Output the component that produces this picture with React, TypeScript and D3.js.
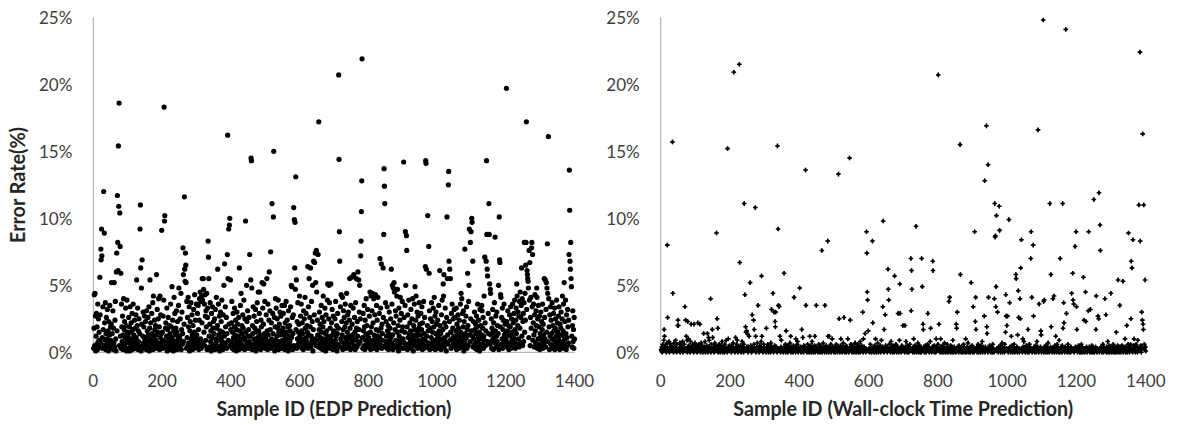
import React from "react";
import * as d3 from "d3";

// Error rate (%) per sample, grouped in blocks of 50 consecutive sample IDs (1..1400).
const BLOCK = 50;

const edpErrors: number[][] = [
  [0.3,1.8,4.3,0.5,4.4,2.7,0.1,1.2,2.9,0.6, 1.9,0.2,3.6,0.8,2.5,0.4,1.5,0.9,5.6,2.8, 0.7,7.7,6.9,9.2,7.2,1.1,0.3,3.4,1.7,12.0, 0.5,8.9,2.2,0.9,3.7,0.2,1.4,2.6,0.6,1.0, 3.2,0.4,1.6,0.1,2.3,0.8,1.3,3.5,0.5,1.9],
  [0.9,2.1,5.2,0.3,1.4,0.6,3.1,0.2,1.8,0.7, 5.2,0.4,2.4,3.8,1.0,0.1,6.0,7.4,1.6,11.7, 8.2,6.1,15.4,10.9,18.6,0.5,10.4,7.9,1.2,5.9, 0.3,3.6,1.9,0.8,2.7,0.2,1.3,4.0,0.6,1.7, 2.3,0.4,1.1,3.3,0.7,2.0,0.1,3.9,1.5,0.9],
  [1.2,0.3,2.6,0.8,1.9,0.1,3.4,0.6,1.5,2.2, 0.4,1.0,2.9,0.2,1.7,3.6,0.7,1.3,0.5,2.4, 0.9,1.8,0.3,2.8,1.1,5.4,0.6,2.0,3.3,0.2, 1.6,0.8,2.5,0.4,1.4,9.2,11.0,6.3,0.1,4.8, 2.1,6.9,0.5,1.2,3.0,0.7,1.9,0.3,2.7,1.0],
  [0.6,2.3,1.1,0.2,3.1,0.9,1.6,0.4,2.6,1.3, 0.7,3.4,0.1,1.8,5.4,0.5,2.2,1.0,0.3,2.9, 1.4,0.8,3.7,0.2,4.2,1.2,0.6,2.4,1.7,0.4, 2.0,0.9,1.3,5.8,0.3,3.2,1.5,0.7,2.5,4.0, 0.5,1.9,0.2,4.2,1.1,2.8,0.6,1.4,9.1,0.8],
  [1.5,0.3,2.7,0.9,3.9,18.3,9.8,10.2,0.4,1.8, 2.2,0.6,1.2,3.3,0.1,1.7,0.8,2.6,0.3,1.0, 0.5,2.0,1.4,0.2,3.6,0.7,1.9,1.1,4.9,0.4, 2.4,0.9,0.1,1.6,4.1,0.6,2.9,1.3,0.3,1.8, 0.8,3.1,1.5,0.2,2.3,0.5,1.0,3.5,4.8,0.7],
  [1.2,0.4,2.5,0.9,4.4,0.2,1.7,3.0,0.6,1.4, 7.8,5.8,0.8,2.1,11.6,6.2,5.3,7.4,6.5,5.2, 0.3,3.8,1.1,2.6,0.5,4.1,1.9,0.7,3.4,0.1, 1.6,2.3,0.4,3.7,1.0,0.6,2.8,1.3,0.2,2.0, 0.9,3.2,0.3,1.5,4.3,0.7,2.4,1.1,0.5,3.6],
  [1.3,0.4,2.9,0.8,3.5,1.7,0.2,2.4,4.0,0.6, 4.5,1.0,3.8,0.3,4.2,2.2,5.5,3.9,0.7,5.5, 4.7,1.5,3.6,0.5,4.3,2.7,0.9,3.1,1.9,4.4, 0.2,2.6,3.3,8.3,7.1,5.5,1.2,0.4,2.1,3.7, 0.8,1.6,0.1,2.9,1.1,0.5,3.4,1.8,0.3,2.3],
  [1.4,0.6,2.5,0.2,3.2,1.0,0.7,4.1,1.8,0.3, 2.0,6.2,0.9,3.6,1.3,0.4,2.7,0.1,1.6,3.0, 0.5,2.3,1.1,3.9,0.8,1.5,0.2,2.8,0.6,5.0, 1.2,6.6,0.4,3.4,1.9,0.7,2.6,0.3,1.4,7.3, 16.2,5.5,0.9,9.2,2.1,9.5,10.0,0.5,5.4,1.7],
  [0.8,2.2,3.8,0.3,1.5,0.6,2.9,1.1,0.2,1.9, 3.3,0.5,1.3,2.4,0.9,0.1,1.7,3.0,0.7,2.1, 0.4,1.2,2.6,0.2,6.3,1.6,0.8,3.5,1.0,4.4, 0.6,2.0,1.4,0.3,2.8,1.8,0.5,3.9,1.1,0.2, 2.5,0.9,9.8,1.5,0.4,5.0,2.3,0.7,3.1,1.2],
  [0.3,1.7,2.6,0.8,7.3,1.2,0.5,5.4,14.5,14.3, 4.8,0.2,2.0,1.4,3.4,0.6,1.0,2.7,0.4,1.8, 0.9,3.2,0.1,1.5,2.3,0.7,3.7,1.1,0.3,4.5, 1.6,0.5,2.9,4.5,0.8,1.3,0.2,2.4,1.9,0.6, 5.2,1.0,3.3,0.4,2.1,5.1,0.7,1.4,3.8,0.3],
  [1.1,0.4,2.8,0.9,5.5,1.6,0.2,3.6,1.3,0.6, 2.4,6.0,0.8,3.1,1.7,7.5,0.3,2.2,1.0,11.1, 0.5,2.9,1.4,10.1,15.0,0.7,2.6,0.1,1.9,4.0, 0.9,3.3,0.4,1.2,2.5,0.6,1.8,3.9,0.2,1.5, 2.1,0.8,3.0,1.3,0.5,2.7,0.3,1.6,3.5,0.9],
  [0.4,1.8,2.9,0.7,1.3,3.5,0.2,2.2,1.0,0.5, 3.8,1.5,0.3,2.4,0.9,1.9,0.1,3.1,1.2,0.6, 2.0,0.8,1.6,3.4,0.4,5.0,1.1,4.9,2.6,0.2, 1.4,2.8,10.8,0.5,9.9,6.3,9.7,4.7,13.1,1.7, 5.4,0.3,2.3,1.0,3.7,0.6,1.5,2.1,0.8,4.2],
  [1.2,0.5,2.7,0.9,3.6,1.6,0.3,2.2,0.7,1.4, 0.2,3.1,1.0,2.5,0.6,4.1,1.8,0.4,2.9,1.1, 0.8,2.0,1.5,6.4,0.3,3.4,1.3,5.5,0.6,2.6, 1.9,6.3,0.4,1.2,3.8,0.9,2.3,5.0,0.1,1.7, 6.8,0.7,2.8,6.7,1.0,7.4,5.2,0.5,7.6,4.5],
  [0.9,2.4,1.3,7.3,0.4,17.2,1.7,3.0,0.6,2.1, 1.1,0.3,3.5,1.5,0.8,2.6,0.2,1.9,4.2,0.5, 2.3,1.0,0.7,3.3,1.4,0.1,2.8,0.9,1.6,0.4, 3.9,5.1,1.2,0.6,2.5,5.0,3.7,0.3,1.8,1.0, 5.1,0.8,2.2,0.4,3.2,1.3,0.2,2.7,1.5,0.7],
  [1.6,0.3,2.5,0.9,3.8,1.2,0.5,2.0,0.1,1.4, 2.9,0.6,1.8,20.7,14.4,9.0,6.8,0.4,3.4,1.0, 4.3,0.8,2.3,1.3,4.1,0.2,1.7,3.1,0.7,2.6, 0.5,1.9,3.6,1.1,0.3,2.2,4.4,0.9,1.5,2.8, 0.6,3.0,1.2,0.4,2.4,5.5,1.8,0.2,3.5,1.0],
  [5.6,0.7,2.1,1.3,0.3,3.3,1.0,5.8,0.5,2.6, 1.5,0.2,3.7,0.9,5.5,1.8,0.4,2.3,1.2,6.0, 0.6,5.4,1.7,3.0,5.0,0.8,2.5,7.2,8.3,10.5, 12.8,21.9,1.1,0.3,2.9,1.6,0.5,3.5,1.9,0.2, 2.4,0.9,1.3,4.0,0.6,2.0,0.4,3.2,1.4,0.8],
  [1.1,0.4,2.7,0.8,4.5,1.5,0.2,4.2,1.9,0.6, 3.1,4.4,0.9,2.2,0.3,4.0,1.3,0.7,2.8,1.0, 4.3,0.5,1.7,3.5,0.2,2.4,1.2,4.1,0.8,1.6, 0.4,2.9,1.1,7.0,0.6,3.3,1.8,6.6,0.3,2.1, 1.4,0.9,6.3,2.6,8.8,13.7,12.4,11.1,0.5,3.7],
  [0.8,2.3,1.2,0.3,3.4,1.6,0.6,2.0,0.2,1.4, 3.0,0.9,1.8,0.4,2.5,1.1,6.2,0.7,3.6,5.0, 1.3,0.2,4.8,2.2,5.2,4.5,0.5,1.7,3.1,0.9, 2.7,0.4,4.2,1.5,4.7,0.8,2.0,0.1,3.3,1.2, 0.6,2.4,4.1,1.0,0.3,2.9,1.6,0.7,3.8,1.9],
  [1.0,0.3,14.2,2.6,0.7,1.5,3.5,9.0,5.0,0.5, 8.7,7.6,1.9,0.2,2.8,1.1,0.6,3.9,1.4,0.4, 2.2,0.8,1.6,3.2,0.3,1.0,2.5,0.6,4.0,1.3, 0.1,2.0,0.9,3.6,1.7,4.9,0.5,2.4,4.2,1.2, 0.7,3.0,1.5,0.3,2.7,0.9,1.8,3.7,0.4,2.1],
  [1.3,0.5,2.9,0.8,1.7,3.4,0.2,2.2,1.0,0.6, 3.8,1.4,0.3,2.6,0.9,6.4,14.3,14.1,6.2,1.2, 0.4,2.0,10.2,1.6,0.7,7.9,5.9,3.1,0.2,1.8, 2.5,0.6,1.1,3.7,0.3,2.3,1.5,0.8,3.3,0.5, 1.9,4.1,0.9,2.7,0.2,1.4,3.0,0.6,2.1,1.0],
  [0.7,2.4,1.2,0.3,3.5,1.6,0.5,6.1,2.0,0.9, 1.4,0.2,2.8,1.0,3.9,0.6,1.7,5.1,4.2,5.8, 0.4,2.2,1.1,3.3,0.8,1.9,0.1,2.6,10.1,5.5, 1.3,0.6,12.5,13.5,6.8,2.3,6.2,0.9,5.5,1.5, 0.3,2.9,1.0,3.6,0.5,1.8,2.5,0.7,1.2,3.2],
  [1.1,0.4,2.6,0.9,1.6,3.3,0.2,2.1,0.7,1.3, 2.8,0.5,1.8,0.3,2.4,1.0,0.6,3.6,1.5,4.4, 0.8,4.0,1.2,2.9,0.4,1.9,3.1,0.1,2.3,0.9, 7.7,1.4,0.6,2.7,1.1,3.4,0.3,1.7,5.9,2.0, 0.5,3.8,5.0,9.2,1.3,0.8,8.2,2.5,9.0,1.6],
  [10.0,9.7,1.2,6.8,0.4,2.3,1.0,0.6,3.0,1.7, 0.3,2.1,1.4,0.8,2.7,0.2,1.9,3.6,0.5,1.1, 2.4,0.7,1.5,0.1,3.2,1.0,2.0,0.4,1.3,3.5, 3.1,0.6,1.8,2.6,0.3,1.2,4.2,0.9,7.1,2.2, 0.5,1.6,6.8,14.3,8.8,6.2,5.7,0.8,2.9,1.4],
  [11.1,8.8,5.1,0.6,4.7,4.4,1.3,2.5,0.3,1.8, 0.9,3.2,1.5,0.2,2.2,1.1,3.7,0.7,8.6,1.6, 2.7,0.4,1.2,3.0,0.8,2.0,0.5,1.4,5.0,0.2, 10.1,6.9,6.7,1.9,4.3,4.1,0.6,2.6,1.0,3.3, 0.3,1.7,2.4,0.9,3.6,1.3,0.5,2.1,0.8,1.5],
  [1.0,19.7,2.3,0.4,1.6,3.1,0.7,2.0,0.2,1.3, 2.8,0.6,1.9,3.4,0.3,1.2,2.5,0.9,1.5,3.6, 0.5,2.2,1.1,2.9,0.8,3.9,1.7,0.3,2.4,3.3, 1.4,5.1,4.2,0.6,2.0,3.0,1.0,2.7,0.4,3.8, 1.8,4.5,0.7,2.6,3.5,6.3,1.2,4.0,0.5,2.3],
  [2.9,0.8,3.7,8.2,1.5,4.4,2.4,6.5,8.2,17.2, 3.2,6.1,5.8,5.5,5.3,4.8,1.1,7.6,3.9,6.7, 0.5,2.6,4.1,1.8,7.8,8.2,3.4,7.3,0.9,2.2, 3.6,1.3,0.4,2.8,4.3,1.6,0.7,3.1,2.0,4.8, 4.1,0.3,2.5,1.0,3.5,0.6,1.9,2.7,0.2,1.4],
  [1.1,3.0,0.5,2.3,0.9,1.7,3.6,0.3,2.1,1.3, 0.7,5.5,2.6,1.0,5.4,0.4,3.2,5.2,1.5,4.8, 8.1,4.4,0.8,16.1,4.0,1.9,0.2,2.8,1.2,3.4, 0.6,2.4,1.4,0.3,3.7,1.0,2.0,0.5,2.9,1.6, 0.9,3.3,0.2,1.8,2.5,0.7,1.2,3.9,0.4,2.2],
  [1.5,0.4,2.7,0.9,3.4,1.2,0.2,2.1,0.7,1.8, 3.0,0.5,1.3,2.5,4.2,0.8,1.6,3.6,0.3,5.2, 1.0,2.3,0.6,3.9,1.4,0.2,2.8,1.1,0.5,3.2, 1.9,0.7,2.4,7.3,13.6,10.6,6.8,6.2,8.2,5.5, 4.9,1.2,0.4,2.0,3.1,0.8,1.7,0.3,2.6,1.0],
];

const wallClockErrors: number[][] = [
  [0.2,0.1,0.4,0.0,0.3,0.6,0.1,0.2,0.9,1.7, 1.2,0.3,0.1,0.5,0.2,0.0,0.4,0.7,8.0,2.6, 0.1,0.3,0.2,0.8,0.0,0.4,0.1,0.6,0.2,0.3, 0.5,0.1,0.2,15.7,4.4,0.3,0.0,0.7,0.2,0.1, 0.4,0.2,0.9,0.1,0.3,0.0,0.6,0.2,2.0,2.4],
  [2.0,0.1,0.3,0.2,0.7,0.0,0.4,0.1,0.5,0.2, 0.3,0.1,0.8,0.0,0.2,0.4,0.1,0.6,0.3,3.4, 0.2,2.4,0.1,1.2,0.3,0.9,0.0,2.3,0.4,1.0, 0.1,0.5,0.2,0.3,0.0,0.8,0.1,2.1,0.2,0.4, 0.3,0.1,0.6,0.2,0.0,2.1,0.4,0.1,0.7,0.2],
  [0.1,0.3,0.2,0.5,0.0,0.4,2.2,0.1,0.3,0.6, 0.2,0.1,2.1,0.4,0.0,0.2,0.7,0.3,0.1,0.5, 0.2,0.0,0.3,1.4,0.1,0.4,0.2,0.8,0.0,0.3, 0.1,0.2,0.5,0.3,1.4,0.0,0.2,1.1,0.4,0.9, 0.1,0.3,0.2,4.0,0.0,0.6,0.1,0.2,1.7,1.1],
  [0.2,0.4,0.1,0.0,0.3,0.7,0.1,0.2,0.5,0.3, 8.9,0.1,2.5,0.2,1.8,0.0,0.4,0.1,0.6,0.2, 0.3,0.0,0.2,0.5,0.1,0.3,0.8,0.2,0.0,0.4, 0.1,0.2,0.3,0.0,0.6,0.1,0.4,0.2,0.9,0.1, 0.3,0.0,15.2,0.2,1.0,0.4,0.1,0.3,0.5,0.2],
  [0.1,0.3,0.2,0.0,0.5,0.2,0.1,0.4,0.7,0.2, 20.9,0.1,0.3,0.0,0.2,1.1,0.4,0.1,0.6,0.3, 0.9,0.2,0.0,0.4,0.1,0.3,21.5,6.7,0.2,0.5, 0.1,0.0,0.3,0.2,0.8,0.1,0.4,0.2,0.0,0.6, 11.1,0.3,4.3,0.1,1.9,1.5,0.2,1.6,0.4,1.4],
  [0.2,0.0,0.4,0.1,1.2,0.3,0.2,5.2,0.1,0.5, 0.3,0.0,0.2,2.8,0.1,0.4,0.2,2.4,0.6,1.7, 0.1,0.3,10.8,1.2,0.0,0.2,0.4,0.1,0.7,0.2, 3.5,0.1,0.3,0.0,0.2,0.5,0.1,0.4,0.2,0.8, 5.7,1.2,0.1,0.3,0.0,0.2,0.6,0.1,0.4,0.2],
  [0.1,0.3,0.2,0.0,1.8,0.4,0.1,0.2,0.6,0.3, 0.0,0.2,0.5,0.1,0.3,0.2,0.0,0.7,0.1,3.2, 0.4,0.2,0.1,4.4,0.3,0.0,3.0,0.2,0.5,2.3, 1.9,3.0,0.1,0.4,0.2,0.0,15.4,0.3,9.2,3.5, 0.2,3.4,0.1,1.2,0.3,0.0,0.4,0.9,0.2,0.1],
  [0.3,0.1,0.2,0.0,0.4,5.9,0.1,0.3,0.2,0.6, 0.0,1.6,0.2,0.4,0.1,0.3,0.0,0.5,0.2,0.1, 0.3,0.2,0.7,0.1,1.2,0.0,0.4,0.2,0.1,0.3, 0.2,0.0,0.5,0.1,4.1,0.3,0.2,0.4,0.0,1.0, 0.1,0.3,0.2,0.6,0.8,0.1,0.0,0.4,0.2,0.3],
  [4.8,0.2,0.1,0.4,0.0,0.3,1.7,0.2,0.1,1.1, 0.3,0.0,0.5,0.2,0.1,0.4,0.2,13.6,3.5,0.1, 0.3,0.0,0.2,0.6,0.1,0.4,0.2,0.0,0.3,1.2, 0.1,0.2,0.5,0.0,0.3,0.1,0.8,0.2,0.4,0.0, 0.2,0.1,0.3,0.5,1.2,0.0,0.2,0.4,3.5,0.1],
  [0.3,0.1,0.2,0.0,0.4,0.6,0.1,0.3,0.2,0.0, 0.5,0.2,0.1,0.4,7.6,0.0,0.3,0.2,0.7,0.1, 0.2,0.4,0.0,3.5,0.3,0.1,0.2,0.5,0.0,0.3, 0.1,8.3,1.2,0.2,0.0,1.2,0.4,0.1,0.3,0.2, 0.6,0.0,0.2,0.1,1.0,0.3,0.4,0.1,0.2,0.0],
  [0.2,0.1,0.4,0.0,0.3,0.2,0.6,0.1,0.3,0.0, 0.2,0.4,13.3,0.1,2.5,0.3,0.0,0.2,0.5,1.0, 0.1,0.3,0.2,0.0,0.4,0.1,0.7,0.2,2.6,0.3, 0.0,0.2,0.1,0.5,0.3,0.0,0.2,0.4,0.1,1.0, 0.3,0.2,0.0,0.1,14.5,0.4,2.4,0.2,0.6,0.1],
  [0.2,0.0,0.3,0.1,0.5,0.2,0.4,0.0,0.1,0.3, 0.7,0.2,0.1,0.0,0.4,0.3,0.2,0.1,0.6,0.0, 0.3,0.1,0.2,0.4,0.0,0.8,0.2,0.1,0.3,0.5, 0.1,0.2,3.0,0.0,1.0,0.3,0.4,0.1,0.2,1.4, 0.3,0.0,0.2,9.0,7.4,4.5,3.9,0.1,1.6,0.2],
  [0.1,0.3,0.0,0.2,0.6,0.1,0.4,0.2,0.0,0.3, 8.3,2.2,0.1,0.4,0.2,0.0,0.3,0.5,0.1,1.0, 0.2,0.0,0.3,0.1,0.4,0.7,0.2,0.0,0.3,0.1, 0.4,0.2,0.1,0.5,0.0,0.3,0.9,0.2,0.1,0.4, 3.4,9.8,0.2,0.0,1.7,0.3,0.1,2.8,0.5,0.2],
  [0.2,0.4,0.1,0.0,0.3,6.2,4.7,3.9,0.2,0.6, 0.1,0.3,0.0,0.2,0.8,0.1,0.4,0.2,0.0,0.5, 0.3,0.1,0.2,0.0,5.7,0.4,0.1,0.3,0.6,0.2, 0.0,0.2,0.1,0.4,2.9,0.3,0.0,0.2,0.9,5.1, 2.9,0.1,0.3,0.0,0.2,0.5,0.1,0.4,2.0,0.2],
  [0.1,0.3,0.2,0.0,2.0,0.4,0.1,0.8,0.2,0.3, 0.0,0.5,0.2,0.1,0.3,0.0,0.4,0.2,0.6,0.1, 0.3,7.0,3.1,6.1,4.7,0.2,0.0,0.1,0.4,1.0, 0.2,0.0,0.3,0.5,0.1,0.2,9.4,0.0,0.4,0.3, 0.1,0.7,0.2,0.0,0.3,0.1,0.5,0.2,0.0,0.4],
  [0.2,0.0,7.0,0.3,4.9,0.1,2.1,1.7,0.4,0.2, 0.0,0.3,0.1,0.5,0.2,0.0,0.4,0.1,0.3,0.6, 2.9,0.2,0.1,0.4,0.0,0.3,0.2,0.8,1.8,0.1, 0.3,0.0,0.2,0.4,6.8,6.1,0.1,0.2,0.5,0.0, 0.3,0.1,0.2,0.0,1.0,0.4,0.2,0.1,0.3,0.6],
  [20.7,0.2,2.1,0.1,0.3,0.0,0.4,1.0,0.2,0.1, 0.3,0.0,0.5,0.2,0.1,0.4,0.0,0.3,0.7,0.2, 0.1,0.3,0.0,0.2,0.4,0.1,0.6,0.2,0.0,0.3, 0.2,3.8,0.1,4.1,0.3,0.0,0.5,0.2,0.1,0.4, 0.0,0.2,0.9,0.1,0.3,0.0,0.4,0.2,0.1,0.3],
  [0.2,0.0,2.1,1.8,0.3,3.0,0.1,0.4,0.2,0.0, 0.5,0.2,0.1,15.5,5.8,0.3,0.0,0.2,0.4,0.1, 0.3,0.0,0.2,0.6,0.1,0.4,0.2,0.0,0.3,1.0, 0.1,0.2,0.0,0.4,0.3,0.1,0.7,0.2,0.0,0.3, 0.2,0.1,0.4,0.0,0.3,5.2,0.2,0.1,0.5,0.0],
  [0.1,3.4,0.2,0.0,0.3,9.0,0.1,2.3,4.1,1.7, 0.2,0.4,0.0,0.1,0.3,0.6,0.2,0.0,0.4,0.1, 0.3,0.2,0.0,0.5,0.1,0.3,0.2,0.8,0.0,0.4, 0.1,0.2,0.3,2.7,12.8,0.0,0.4,0.1,0.2,16.9, 1.9,1.4,0.2,0.0,14.0,4.1,0.3,0.1,0.5,0.2],
  [0.2,0.0,0.3,0.1,0.4,0.2,0.0,0.6,0.1,0.3, 0.2,0.0,4.0,11.1,8.6,8.7,3.4,4.9,10.2,0.1, 0.3,3.0,0.2,0.0,0.4,0.1,10.9,9.1,0.2,0.5, 0.0,0.3,0.1,0.2,0.7,0.0,0.4,0.2,0.1,0.3, 0.2,0.0,0.6,0.1,1.5,4.3,2.7,0.3,2.0,0.1],
  [2.7,0.2,0.0,0.3,9.9,0.1,3.7,0.4,0.2,0.0, 0.3,1.2,0.1,0.5,0.2,0.0,0.4,0.1,0.3,0.6, 0.2,0.0,0.1,0.3,5.8,5.5,0.2,0.4,0.0,1.3, 0.1,4.6,2.6,0.3,0.0,0.2,4.0,2.5,6.3,0.1, 8.4,0.3,0.2,0.0,1.0,0.4,0.1,0.8,0.2,0.3],
  [0.2,0.0,0.3,0.1,0.5,0.2,0.4,0.0,0.1,1.7, 0.3,0.2,0.0,0.6,0.1,0.4,0.2,7.0,9.0,0.3, 4.1,0.0,0.2,0.1,8.0,2.7,0.3,0.4,0.0,0.2, 0.1,0.5,0.3,0.0,0.2,0.8,0.1,0.4,16.6,0.2, 0.0,3.6,0.3,0.1,0.2,0.4,1.6,1.3,0.0,0.2],
  [0.2,0.1,0.3,24.8,3.8,0.0,3.9,0.4,0.2,0.1, 0.5,0.0,0.3,0.2,0.1,0.4,0.0,0.7,0.2,0.3, 0.1,0.0,11.1,0.2,0.4,5.8,1.9,0.1,0.3,0.0, 0.2,4.0,0.1,0.3,4.2,0.0,0.5,0.2,0.1,1.2, 0.3,0.0,0.2,0.6,0.1,0.4,0.2,0.0,0.3,0.9],
  [0.2,0.0,7.0,0.3,0.1,0.4,0.2,0.0,0.5,11.1, 1.8,0.1,3.7,2.2,0.3,0.0,0.2,0.4,24.1,0.1, 2.9,0.3,0.0,0.2,0.6,0.1,0.4,0.2,0.0,0.3, 0.1,0.2,0.0,0.4,0.3,4.4,0.1,0.2,5.9,3.9, 0.2,3.6,0.0,0.3,0.1,7.9,0.4,0.2,9.0,3.4],
  [1.7,0.2,0.0,0.3,0.1,0.5,0.2,0.4,0.0,0.1, 0.3,0.2,0.0,0.6,0.1,0.4,0.2,0.0,0.3,5.6, 0.1,2.4,0.2,0.0,0.3,4.5,2.3,0.1,0.4,0.2, 0.0,0.3,0.1,3.1,9.0,0.2,0.4,0.0,0.2,3.2, 0.1,0.3,0.0,0.5,0.2,0.1,0.4,0.0,0.3,11.4],
  [0.2,0.0,0.3,0.1,0.4,1.7,4.2,0.2,0.0,0.3, 0.1,2.7,0.2,2.5,11.9,0.0,0.3,9.5,7.6,0.2, 0.4,0.1,0.0,0.3,0.2,0.6,0.1,0.0,0.4,0.2, 0.3,4.0,0.1,0.2,2.8,0.0,0.4,0.1,0.3,0.8, 0.0,0.2,0.1,0.5,0.3,0.0,0.2,0.4,4.4,0.1],
  [0.2,0.0,0.4,0.1,0.3,0.6,0.2,0.0,0.1,0.3, 0.4,0.0,0.2,0.1,1.5,0.3,0.0,0.2,0.5,5.4, 0.1,0.3,0.0,0.2,3.5,0.4,0.1,0.0,0.3,0.2, 0.5,0.1,0.3,5.3,0.0,0.2,0.4,0.1,0.3,1.0, 0.2,0.0,0.4,0.1,2.0,0.3,0.0,0.2,0.6,8.9],
  [0.3,0.1,0.0,0.4,0.2,0.6,2.5,6.8,0.1,6.3, 0.2,0.0,8.4,0.3,0.5,1.0,0.1,0.4,0.2,0.0, 0.3,0.6,0.1,0.2,0.4,0.0,0.9,0.2,0.3,11.0, 0.1,0.4,22.4,8.3,0.2,0.5,0.0,3.0,0.3,2.4, 16.3,2.1,1.7,11.0,0.3,0.6,0.2,5.4,0.4,0.1],
];

const yTicks = [0, 5, 10, 15, 20, 25];
const xTicks = [0, 200, 400, 600, 800, 1000, 1200, 1400];
const yAxisTitle = "Error Rate(%)";
const edpTitle = "Sample ID (EDP Prediction)";
const wallTitle = "Sample ID (Wall-clock Time Prediction)";

type Pt = { id: number; v: number };
const toPoints = (blocks: number[][]): Pt[] =>
  blocks.flatMap((blk, b) => blk.map((v, i) => ({ id: b * BLOCK + i + 1, v })));

const FONT = "Lato, 'Open Sans', 'DejaVu Sans', sans-serif";
const AXIS = "#a6a6a6";
const TICK_TEXT = "#404040";
const TITLE_TEXT = "#262626";

export default function App() {
  const W = 1179;
  const H = 425;
  const y = d3.scaleLinear().domain([0, 25]).range([352.3, 17.3]);

  const panels = [
    { key: "edp", points: toPoints(edpErrors), title: edpTitle, range: [93.3, 574.5], titleLen: 235, marker: "dot" },
    { key: "wall", points: toPoints(wallClockErrors), title: wallTitle, range: [660.7, 1145.8], titleLen: 340, marker: "cross" },
  ];

  const crossPath = d3.symbol().type(d3.symbolCross).size(12)() as string;
  const diamondPath = d3.symbol().type(d3.symbolDiamond).size(7)() as string;

  return (
    <div style={{ position: "absolute", left: 0, top: 0 }}>
      <svg width={W} height={H} style={{ display: "block", background: "#fff" }} fontFamily={FONT}>
        {panels.map((p) => {
          const x = d3.scaleLinear().domain([0, 1400]).range(p.range);
          const x0 = p.range[0];
          const x1 = p.range[1];
          return (
            <g key={p.key}>
              {/* axes */}
              <line x1={x0} x2={x0} y1={y(25)} y2={y(0)} stroke={AXIS} strokeWidth={1} />
              <line x1={x0} x2={x1} y1={y(0)} y2={y(0)} stroke={AXIS} strokeWidth={1} />
              {/* y tick labels */}
              {yTicks.map((t) => (
                <text key={t} x={x0 - 21} y={y(t) + 6.8} textAnchor="end" fontSize={17} fill={TICK_TEXT}>
                  {t}%
                </text>
              ))}
              {/* x tick labels */}
              {xTicks.map((t) => (
                <text key={t} x={x(t)} y={386.5} textAnchor="middle" fontSize={17} fill={TICK_TEXT}>
                  {t}
                </text>
              ))}
              {/* x axis title */}
              <text
                x={(x0 + x1) / 2}
                y={416}
                textAnchor="middle"
                fontSize={20}
                fontWeight="bold"
                fill={TITLE_TEXT}
                textLength={p.titleLen}
                lengthAdjust="spacingAndGlyphs"
              >
                {p.title}
              </text>
              {/* markers */}
              {p.marker === "dot"
                ? p.points.map((d) => (
                    <circle key={d.id} cx={x(d.id)} cy={y(d.v)} r={2.6} fill="#000" />
                  ))
                : p.points.map((d) => (
                    <g key={d.id} transform={`translate(${x(d.id)},${y(d.v)})`}>
                      <path d={crossPath} fill="#000" />
                      <path d={diamondPath} fill="#000" />
                    </g>
                  ))}
            </g>
          );
        })}
        <text
          transform="translate(25,185) rotate(-90)"
          textAnchor="middle"
          fontSize={20}
          fontWeight="bold"
          fill={TITLE_TEXT}
          textLength={116}
          lengthAdjust="spacingAndGlyphs"
        >
          {yAxisTitle}
        </text>
      </svg>
    </div>
  );
}
